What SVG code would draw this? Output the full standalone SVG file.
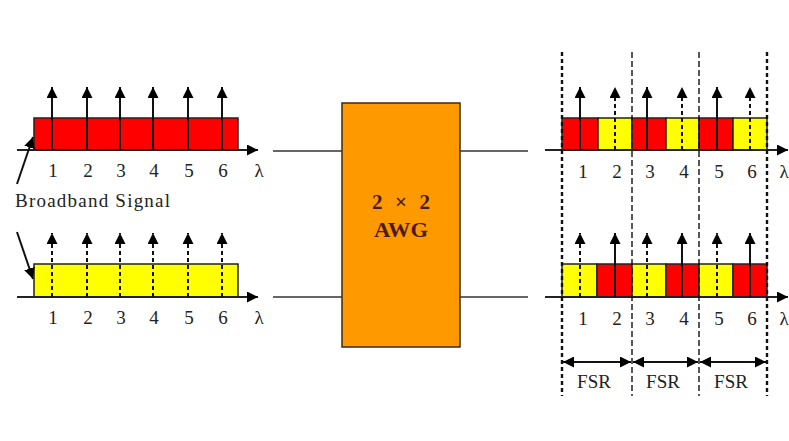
<svg xmlns="http://www.w3.org/2000/svg" width="789" height="441" viewBox="0 0 789 441">
<defs>
<marker id="ah" markerUnits="userSpaceOnUse" markerWidth="11" markerHeight="11" refX="10" refY="5" orient="auto-start-reverse" viewBox="0 0 10 10">
<path d="M0,0 L10,5 L0,10 z" fill="#000"/>
</marker>
<style>
.ax{stroke:#222;stroke-width:2;fill:none}
.ln{stroke:#333;stroke-width:1.6;fill:none}
.s{stroke:#111;stroke-width:2;fill:none}
.d{stroke:#111;stroke-width:2;fill:none;stroke-dasharray:4 3}
.red{fill:#ff0000;stroke:#222;stroke-width:1.5}
.yel{fill:#ffff00;stroke:#222;stroke-width:1.5}
.num{font-family:"Liberation Serif",serif;font-size:19px;fill:#222;text-anchor:middle}
.lab{font-family:"Liberation Serif",serif;font-size:19px;fill:#222}
.vo{stroke:#111;stroke-width:2.4;stroke-dasharray:4 3;fill:none}
.vi{stroke:#111;stroke-width:1.4;stroke-dasharray:6 3;fill:none}
.awg{font-family:"Liberation Serif",serif;font-size:21px;font-weight:bold;fill:#4a1c1c;text-anchor:middle}
</style>
</defs>
<rect width="789" height="441" fill="#fff"/>

<g id="input-top">
<rect class="red" x="34" y="118" width="204" height="32"/>
<line class="ax" x1="17" y1="150" x2="258" y2="150" marker-end="url(#ah)"/>
<line class="s" x1="52" y1="150" x2="52" y2="87" marker-end="url(#ah)"/>
<line class="s" x1="87" y1="150" x2="87" y2="87" marker-end="url(#ah)"/>
<line class="s" x1="120" y1="150" x2="120" y2="87" marker-end="url(#ah)"/>
<line class="s" x1="153" y1="150" x2="153" y2="87" marker-end="url(#ah)"/>
<line class="s" x1="188" y1="150" x2="188" y2="87" marker-end="url(#ah)"/>
<line class="s" x1="222" y1="150" x2="222" y2="87" marker-end="url(#ah)"/>
<text class="num" x="53" y="177">1</text><text class="num" x="88" y="177">2</text><text class="num" x="121" y="177">3</text><text class="num" x="154" y="177">4</text><text class="num" x="189" y="177">5</text><text class="num" x="223" y="177">6</text>
<text class="num" x="259" y="177">λ</text>
</g>

<g id="input-bottom">
<rect class="yel" x="34" y="264" width="204" height="33"/>
<line class="ax" x1="17" y1="297" x2="258" y2="297" marker-end="url(#ah)"/>
<line class="d" x1="52" y1="297" x2="52" y2="233" marker-end="url(#ah)"/>
<line class="d" x1="87" y1="297" x2="87" y2="233" marker-end="url(#ah)"/>
<line class="d" x1="120" y1="297" x2="120" y2="233" marker-end="url(#ah)"/>
<line class="d" x1="153" y1="297" x2="153" y2="233" marker-end="url(#ah)"/>
<line class="d" x1="188" y1="297" x2="188" y2="233" marker-end="url(#ah)"/>
<line class="d" x1="222" y1="297" x2="222" y2="233" marker-end="url(#ah)"/>
<text class="num" x="53" y="324">1</text><text class="num" x="88" y="324">2</text><text class="num" x="121" y="324">3</text><text class="num" x="154" y="324">4</text><text class="num" x="189" y="324">5</text><text class="num" x="223" y="324">6</text>
<text class="num" x="259" y="324">λ</text>
</g>

<g id="broadband-label">
<text class="lab" x="15" y="207" textLength="155" lengthAdjust="spacing">Broadband Signal</text>
</g>

<g id="awg">
<rect x="342" y="103" width="118" height="244" fill="#ff9900" stroke="#3a2a1a" stroke-width="1.5"/>
<text class="awg" x="401" y="209" textLength="58" lengthAdjust="spacing">2 × 2</text>
<text class="awg" x="401" y="237" textLength="54" lengthAdjust="spacingAndGlyphs">AWG</text>
</g>

<g id="output-top">
<rect class="red" x="562" y="118" width="36" height="32"/>
<rect class="yel" x="598" y="118" width="34" height="32"/>
<rect class="red" x="632" y="118" width="34" height="32"/>
<rect class="yel" x="666" y="118" width="33" height="32"/>
<rect class="red" x="699" y="118" width="34" height="32"/>
<rect class="yel" x="733" y="118" width="34" height="32"/>
<line class="ax" x1="545" y1="150" x2="788" y2="150" marker-end="url(#ah)"/>
<line class="s" x1="580" y1="150" x2="580" y2="87" marker-end="url(#ah)"/>
<line class="d" x1="615" y1="150" x2="615" y2="87" marker-end="url(#ah)"/>
<line class="s" x1="647" y1="150" x2="647" y2="87" marker-end="url(#ah)"/>
<line class="d" x1="682" y1="150" x2="682" y2="87" marker-end="url(#ah)"/>
<line class="s" x1="717" y1="150" x2="717" y2="87" marker-end="url(#ah)"/>
<line class="d" x1="750" y1="150" x2="750" y2="87" marker-end="url(#ah)"/>
<text class="num" x="583" y="178">1</text><text class="num" x="617" y="178">2</text><text class="num" x="650" y="178">3</text><text class="num" x="684" y="178">4</text><text class="num" x="719" y="178">5</text><text class="num" x="752" y="178">6</text>
<text class="num" x="784" y="178">λ</text>
</g>

<g id="output-bottom">
<rect class="yel" x="562" y="264" width="35" height="33"/>
<rect class="red" x="597" y="264" width="35" height="33"/>
<rect class="yel" x="632" y="264" width="34" height="33"/>
<rect class="red" x="666" y="264" width="33" height="33"/>
<rect class="yel" x="699" y="264" width="34" height="33"/>
<rect class="red" x="733" y="264" width="34" height="33"/>
<line class="ax" x1="545" y1="297" x2="788" y2="297" marker-end="url(#ah)"/>
<line class="d" x1="580" y1="297" x2="580" y2="233" marker-end="url(#ah)"/>
<line class="s" x1="615" y1="297" x2="615" y2="233" marker-end="url(#ah)"/>
<line class="d" x1="647" y1="297" x2="647" y2="233" marker-end="url(#ah)"/>
<line class="s" x1="682" y1="297" x2="682" y2="233" marker-end="url(#ah)"/>
<line class="d" x1="717" y1="297" x2="717" y2="233" marker-end="url(#ah)"/>
<line class="s" x1="750" y1="297" x2="750" y2="233" marker-end="url(#ah)"/>
<text class="num" x="583" y="325">1</text><text class="num" x="617" y="325">2</text><text class="num" x="650" y="325">3</text><text class="num" x="684" y="325">4</text><text class="num" x="719" y="325">5</text><text class="num" x="752" y="325">6</text>
<text class="num" x="784" y="325">λ</text>
</g>

<g id="fsr-guides">
<line class="vo" x1="562" y1="52" x2="562" y2="396"/>
<line class="vi" x1="632" y1="52" x2="632" y2="396"/>
<line class="vi" x1="699" y1="52" x2="699" y2="396"/>
<line class="vo" x1="767" y1="52" x2="767" y2="396"/>
</g>

<g id="fsr">
<line class="s" x1="563" y1="362" x2="631" y2="362" marker-start="url(#ah)" marker-end="url(#ah)"/>
<line class="s" x1="633" y1="362" x2="698" y2="362" marker-start="url(#ah)" marker-end="url(#ah)"/>
<line class="s" x1="700" y1="362" x2="766" y2="362" marker-start="url(#ah)" marker-end="url(#ah)"/>
<text class="num" x="594" y="388">FSR</text>
<text class="num" x="663" y="388">FSR</text>
<text class="num" x="731" y="388">FSR</text>
</g>

<g id="connectors">
<line class="ln" x1="273" y1="151" x2="342" y2="151"/>
<line class="ln" x1="460" y1="151" x2="528" y2="151"/>
<line class="ln" x1="273" y1="297" x2="342" y2="297"/>
<line class="ln" x1="460" y1="297" x2="528" y2="297"/>
<line class="s" x1="17" y1="184" x2="33" y2="137" marker-end="url(#ah)"/>
<line class="s" x1="17" y1="232" x2="33" y2="279" marker-end="url(#ah)"/>
</g>
</svg>
